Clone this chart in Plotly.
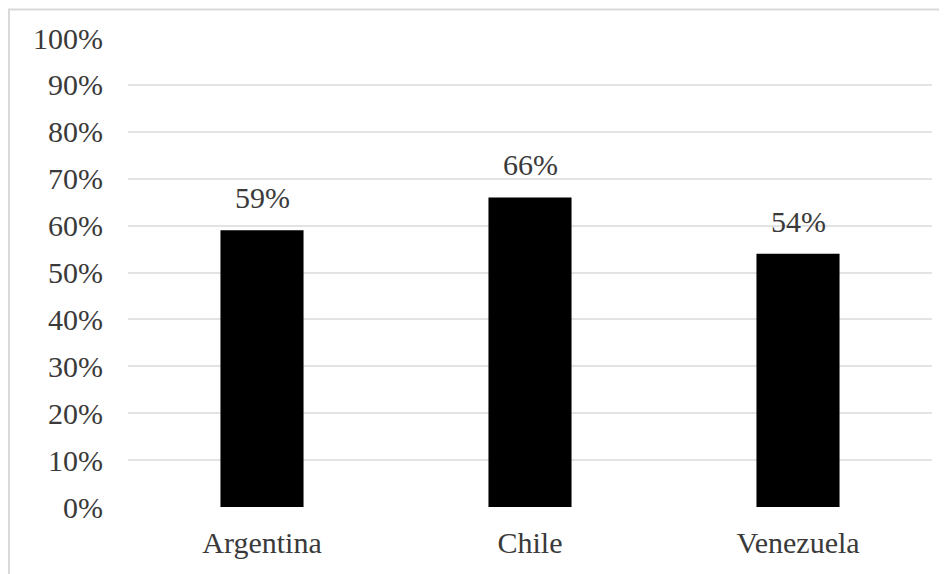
import plotly.graph_objects as go

categories = ["Argentina", "Chile", "Venezuela"]
values = [0.59, 0.66, 0.54]
labels = ["59%", "66%", "54%"]
tick_vals = [i / 10 for i in range(11)]
tick_text = [f"{i * 10}%" for i in range(11)]

font_family = "Liberation Serif, Times New Roman, serif"
text_color = "#3a3a3a"

fig = go.Figure()
fig.add_trace(go.Bar(
    x=categories,
    y=values,
    marker=dict(color="#000000", line=dict(color="#000000", width=0)),
    hoverinfo="skip",
))

for c, v, t in zip(categories, values, labels):
    fig.add_annotation(x=c, y=v, text=t, showarrow=False, yanchor="bottom",
                       yshift=14, font=dict(family=font_family, size=30, color=text_color))

fig.update_layout(
    width=947, height=574,
    margin=dict(l=120, r=23, t=30, b=75, autoexpand=False),
    paper_bgcolor="white", plot_bgcolor="white",
    bargap=0.69,
    showlegend=False,
    font=dict(family=font_family, size=30, color=text_color),
    xaxis=dict(showgrid=False, showline=False, ticks="", ticklabelstandoff=15,
               automargin=False,
               tickfont=dict(family=font_family, size=30, color=text_color)),
    yaxis=dict(range=[0, 1], tickvals=tick_vals, ticktext=tick_text,
               showgrid=True, gridcolor="#e3e3e3", gridwidth=1.5, automargin=False,
               zeroline=False, showline=False, ticks="", ticklabelstandoff=24,
               tickfont=dict(family=font_family, size=30, color=text_color)),
    shapes=[dict(type="rect", xref="paper", yref="paper",
                 x0=-0.148, y0=-0.3, x1=1.1, y1=1.061,
                 line=dict(color="#d9d9d9", width=2), layer="below")],
)

fig.write_html("out.html")
